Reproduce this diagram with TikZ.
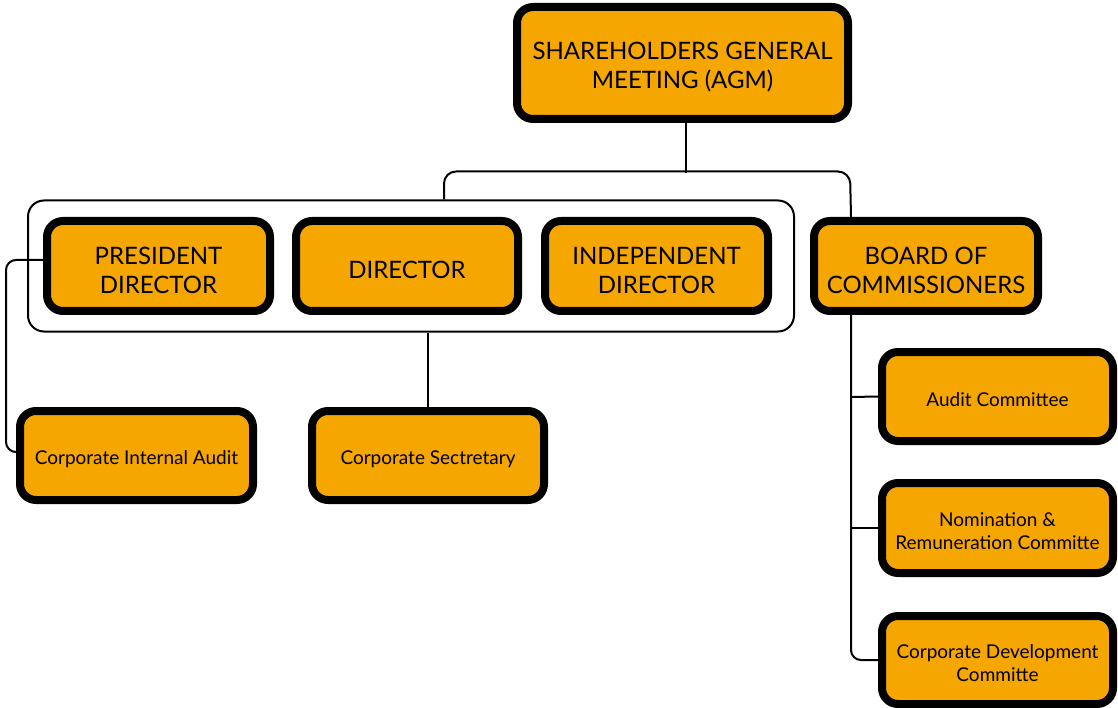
\documentclass[tikz,border=0pt]{standalone}
\usepackage{fontspec}
\setmainfont{Lato}
\usetikzlibrary{backgrounds}
\definecolor{boxfill}{HTML}{F5A600}
\begin{document}
\begin{tikzpicture}[x=1pt,y=-1pt,
  unit/.style={draw=black,line width=8pt,fill=boxfill,rounded corners=16pt,
    inner sep=0pt},
  bigtext/.style={align=center,inner sep=0pt,yshift=-4pt,
    font=\fontsize{24}{29}\selectfont},
  smalltext/.style={align=center,inner sep=0pt,yshift=-3.5pt,
    font=\fontsize{19}{23}\selectfont},
  big/.style={unit,label={[bigtext]center:#1}},
  small/.style={unit,label={[smalltext]center:#1}},
  conn/.style={draw=black,line width=2pt},
]
\useasboundingbox (0,0) rectangle (1118,708);

% boxes, each with its caption centred a little below the middle
\node[big={SHAREHOLDERS GENERAL\\MEETING (AGM)},
  minimum width=331pt,minimum height=112pt] (agm) at (682.5,63) {};
\node[big={PRESIDENT\\DIRECTOR},
  minimum width=223pt,minimum height=90pt] (pd) at (158.5,266) {};
\node[big={DIRECTOR},
  minimum width=222pt,minimum height=90pt] (dir) at (407,266) {};
\node[big={INDEPENDENT\\DIRECTOR},
  minimum width=223pt,minimum height=90pt] (ind) at (656.5,266) {};
\node[big={BOARD OF\\COMMISSIONERS},
  minimum width=224pt,minimum height=90pt] (boc) at (926,266) {};
\node[small={Corporate Internal Audit},
  minimum width=233pt,minimum height=89pt] (cia) at (136.5,455.5) {};
\node[small={Corporate Sectretary},
  minimum width=232pt,minimum height=89pt] (cs) at (428,455.5) {};
\node[small={Audit Committee},
  minimum width=231pt,minimum height=89pt] (ac) at (997.5,396.5) {};
\node[small={Nomination \&\\Remuneration Committe},
  minimum width=231pt,minimum height=90pt] (nrc) at (997.5,528) {};
\node[small={Corporate Development\\Committe},
  minimum width=231pt,minimum height=88pt] (cdc) at (997.5,660) {};

\begin{scope}[on background layer]
% white page
\fill[white] (0,0) rectangle (1118,708);
% frame around the three directors
\node[draw=black,line width=2pt,rounded corners=16pt,minimum width=766pt,
  minimum height=131pt,inner sep=0pt] (group) at (411,266) {};
% connectors
\draw[conn] ([xshift=3.5pt]agm.south) -- ++(0,50);
\draw[conn,rounded corners=12pt] ([xshift=417pt]group.north west) -- ++(0,-28)
  -- ++(406,0) -- ([xshift=-75pt]boc.north);
\draw[conn,rounded corners=10pt] ([yshift=6pt]pd.west) -- (6,260) -- (6,452)
  -- ([yshift=3.5pt]cia.west);
\draw[conn] (cs.north) -- (cs.north |- group.south);
\draw[conn,rounded corners=10pt] ([xshift=-75pt]boc.south) -- (851,660) -- (cdc.west);
\draw[conn] (851,397) -- (ac.west);
\draw[conn] (851,528) -- (nrc.west);
\end{scope}
\end{tikzpicture}
\end{document}
